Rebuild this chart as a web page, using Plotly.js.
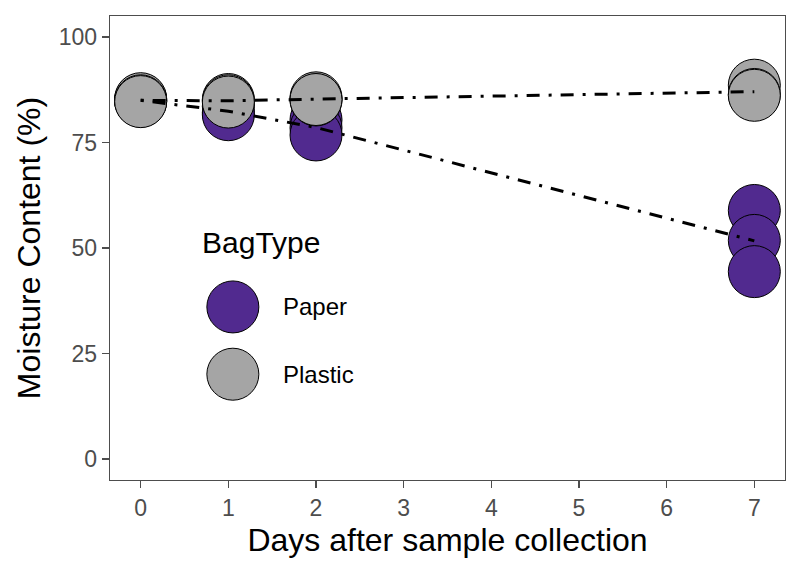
<!DOCTYPE html>
<html>
<head>
<meta charset="utf-8">
<script src="https://cdn.plot.ly/plotly-3.0.1.min.js"></script>
<style>
  html, body { margin: 0; padding: 0; background: #fff; }
  #plot { width: 800px; height: 571px; }
</style>
</head>
<body>
<div id="plot"></div>
<script>
// moisture content readings per bag type (3 replicates per day)
const sampleDays = [0, 0, 0, 1, 1, 1, 2, 2, 2, 7, 7, 7];
const paperMoisture = [85.2, 84.8, 85.0, 83.6, 82.1, 81.6, 80.4, 78.5, 76.8, 58.9, 51.8, 44.4];
const plasticMoisture = [85.4, 84.9, 84.7, 85.2, 84.9, 84.6, 85.6, 85.1, 85.2, 88.6, 86.4, 86.2];
const dayTicks = [0, 1, 2, 3, 4, 5, 6, 7];
const moistureTicks = [0, 25, 50, 75, 100];
const bagTypes = ["Paper", "Plastic"];

const FONT = "Liberation Sans, Arial, sans-serif",
  PURPLE = "#512a8f",
  GREY = "#a5a5a5";

// mean per day, used for the dot-dash trend lines
function dayMeans(days, vals) {
  var uniq = [...new Set(days)];
  var means = uniq.map(d => {
    var v = vals.filter((_, i) => days[i] === d);
    return v.reduce((a, b) => a + b, 0) / v.length;
  });
  return {x: uniq, y: means};
}

function pointTrace(vals, color) {
  return {
    x: sampleDays, y: vals,
    mode: 'markers', type: 'scatter',
    marker: {size: 52, color: color, line: {color: '#000', width: 1}},
    showlegend: false, hoverinfo: 'x+y'
  };
}

function lineTrace(vals) {
  var m = dayMeans(sampleDays, vals);
  return {
    x: m.x, y: m.y,
    mode: 'lines', type: 'scatter',
    line: {color: '#000', width: 3, dash: '3px,9px,13px,9px'},
    showlegend: false, hoverinfo: 'skip'
  };
}

var data = [
  pointTrace(paperMoisture, PURPLE),
  pointTrace(plasticMoisture, GREY),
  lineTrace(paperMoisture),
  lineTrace(plasticMoisture)
];

// hand-drawn legend (plotly caps legend marker size)
var legendColors = [PURPLE, GREY],
  legendY = [0.373, 0.228];

var shapes = bagTypes.map((b, i) => ({
  type: 'circle', xref: 'paper', yref: 'paper',
  xsizemode: 'pixel', ysizemode: 'pixel',
  xanchor: 0.182, yanchor: legendY[i],
  x0: -26, x1: 26, y0: -26, y1: 26,
  fillcolor: legendColors[i], line: {color: '#000', width: 1}
}));

var annotations = bagTypes.map((b, i) => ({
  text: b, xref: 'paper', yref: 'paper',
  x: 0.254, y: legendY[i], xanchor: 'left', yanchor: 'middle',
  showarrow: false, font: {family: FONT, size: 24, color: '#000'}
}));
annotations.push({
  text: 'BagType', xref: 'paper', yref: 'paper',
  x: 0.133, y: 0.511, xanchor: 'left', yanchor: 'middle',
  showarrow: false, font: {family: FONT, size: 30, color: '#000'}
});

var axisCommon = {
  showgrid: false, zeroline: false,
  showline: true, mirror: true, linecolor: '#4d4d4d', linewidth: 1.3,
  ticks: 'outside', ticklen: 7, tickwidth: 1.6, tickcolor: '#4d4d4d',
  tickfont: {family: FONT, size: 23, color: '#4d4d4d'}
};

var layout = {
  width: 800, height: 571,
  margin: {l: 110, r: 15, t: 16, b: 91},
  paper_bgcolor: '#fff', plot_bgcolor: '#fff',
  showlegend: false,
  xaxis: Object.assign({}, axisCommon, {
    range: [-0.35, 7.35], tickvals: dayTicks,
    title: {text: 'Days after sample collection', font: {family: FONT, size: 32, color: '#000'}, standoff: 8}
  }),
  yaxis: Object.assign({}, axisCommon, {
    range: [-5, 105], tickvals: moistureTicks,
    title: {text: 'Moisture Content (%)', font: {family: FONT, size: 32, color: '#000'}, standoff: 8}
  }),
  shapes: shapes,
  annotations: annotations
};

Plotly.newPlot('plot', data, layout, {displayModeBar: false, staticPlot: true});
</script>
</body>
</html>
